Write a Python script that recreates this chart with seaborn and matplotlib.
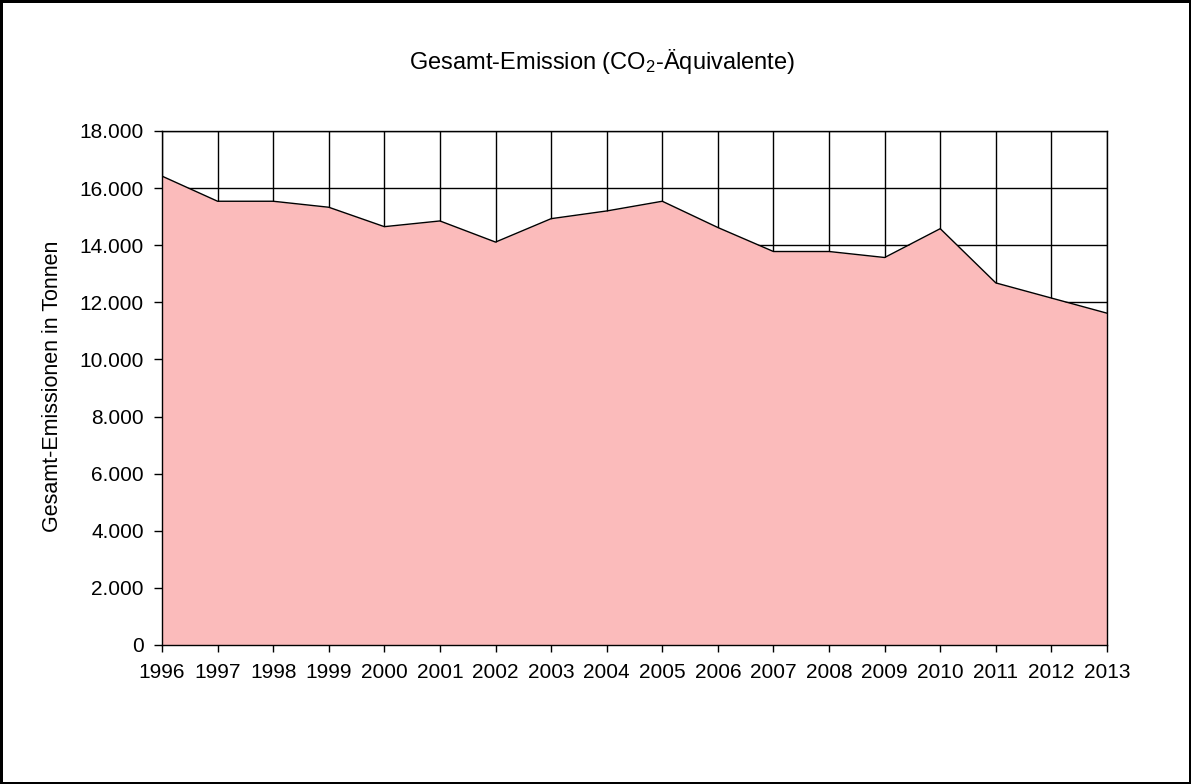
import matplotlib
matplotlib.use("Agg")
import matplotlib.pyplot as plt
import matplotlib.ticker as mticker
import seaborn as sns
import pandas as pd

years = [1996, 1997, 1998, 1999, 2000, 2001, 2002, 2003, 2004,
         2005, 2006, 2007, 2008, 2009, 2010, 2011, 2012, 2013]
emissions = [16420, 15540, 15540, 15330, 14650, 14850, 14110, 14930, 15200,
             15540, 14620, 13780, 13780, 13570, 14580, 12680, 12150, 11620]
title = "Gesamt-Emission (CO$_{\\mathrm{2}}$-Äquivalente)"
ylabel = "Gesamt-Emissionen in Tonnen"

df = pd.DataFrame({"Jahr": years, "Emission": emissions})

sns.set_theme(style="white")
plt.rcParams["font.family"] = ["Liberation Sans", "DejaVu Sans"]
plt.rcParams["mathtext.fontset"] = "custom"
plt.rcParams["mathtext.rm"] = "Liberation Sans"
plt.rcParams["mathtext.it"] = "Liberation Sans"

fig = plt.figure(figsize=(11.91, 7.84), dpi=100)
fig.patch.set_facecolor("white")
fig.patch.set_edgecolor("black")
fig.patch.set_linewidth(2.5)

ax = fig.add_axes([162 / 1191, 1 - 645 / 784, (1107 - 162) / 1191, (645 - 131) / 784])
ax.fill_between(df["Jahr"], df["Emission"], 0, color="#FBBBBB", linewidth=0, zorder=2)
sns.lineplot(data=df, x="Jahr", y="Emission", ax=ax, color="black", linewidth=1.0, zorder=3)

ax.set_xlim(years[0], years[-1])
ax.set_ylim(0, 18000)
ax.set_xticks(years)
ax.set_xticklabels([str(y) for y in years])
ax.yaxis.set_major_locator(mticker.MultipleLocator(2000))
ax.yaxis.set_major_formatter(mticker.FuncFormatter(lambda v, p: f"{int(v):,}".replace(",", ".")))

ax.grid(True, color="black", linewidth=1.0, zorder=1)
ax.set_axisbelow(True)
for s in ax.spines.values():
    s.set_color("black")
    s.set_linewidth(1.0)
    s.set_zorder(4)

ax.tick_params(axis="both", which="major", labelsize=15, colors="black",
               width=1.0, direction="out")
ax.tick_params(axis="x", bottom=True, length=5, pad=8)
ax.tick_params(axis="y", left=True, length=6, pad=7)

ax.set_xlabel("")
ax.set_ylabel("")
fig.text(53 / 1191, 1 - 386 / 784, ylabel, rotation=90, ha="center", va="center",
         fontsize=15.5, color="black")
fig.text(602 / 1191, 1 - 69 / 784, title, ha="center", va="baseline",
         fontsize=17, color="black")

fig.savefig("out.png", dpi=100, facecolor=fig.get_facecolor(), edgecolor=fig.get_edgecolor())
